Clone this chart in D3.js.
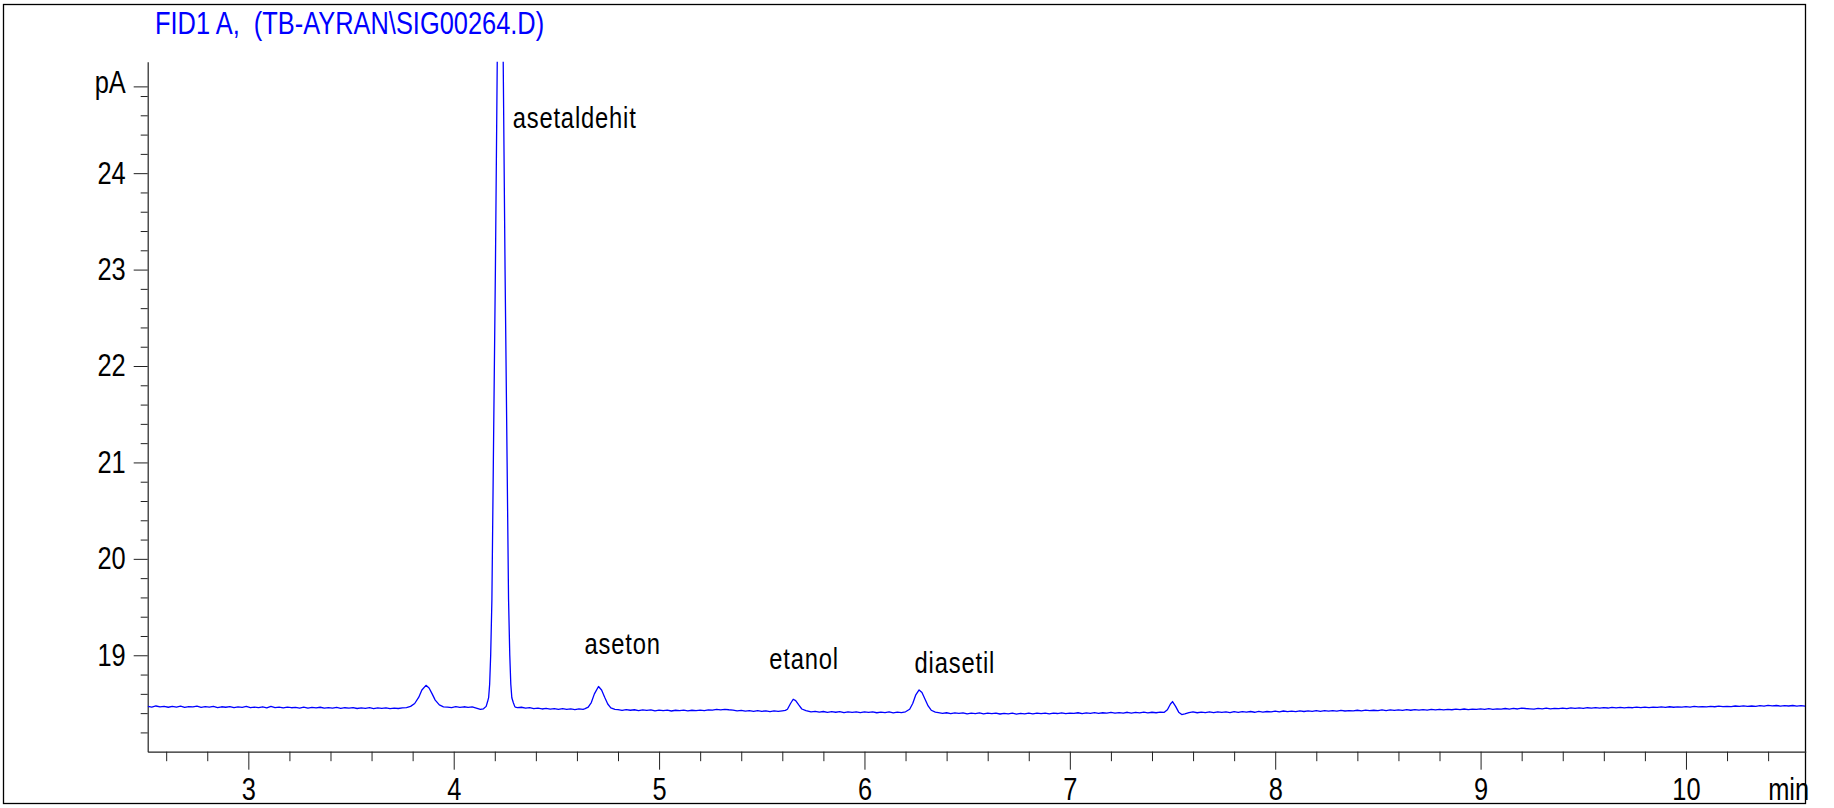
<!DOCTYPE html>
<html>
<head>
<meta charset="utf-8">
<script src="https://cdn.jsdelivr.net/npm/d3@7"></script>
<style>
body { margin: 0; background: #fff; }
svg { display: block; }
text { font-family: "Liberation Sans", Arial, sans-serif; }
</style>
</head>
<body>
<div id="c"></div>
<script>
// chromatogram header + units
var title = "FID1 A,  (TB-AYRAN\\SIG00264.D)";
var yUnit = "pA";
var xUnit = "min";

// axis ticks
var yMajor = [19, 20, 21, 22, 23, 24];
var yMinor = [18.2, 18.4, 18.6, 18.8, 19.2, 19.4, 19.6, 19.8, 20.2, 20.4, 20.6, 20.8,
	21.2, 21.4, 21.6, 21.8, 22.2, 22.4, 22.6, 22.8, 23.2, 23.4, 23.6, 23.8, 24.2, 24.4, 24.6, 24.8];
var yUnitTick = [24.9];
var xMajor = [3, 4, 5, 6, 7, 8, 9, 10];
var xMinor = [2.6, 2.8, 3.2, 3.4, 3.6, 3.8, 4.2, 4.4, 4.6, 4.8, 5.2, 5.4, 5.6, 5.8,
	6.2, 6.4, 6.6, 6.8, 7.2, 7.4, 7.6, 7.8, 8.2, 8.4, 8.6, 8.8, 9.2, 9.4, 9.6, 9.8, 10.2, 10.4];
var xUnitAt = 10.5;

// named peaks: label text, label anchor (min, pA)
var peakNames = ["asetaldehit", "aseton", "etanol", "diasetil"];
var peakTimes = [4.2265, 4.705, 5.653, 6.266];
var labelTimes = [4.287, 4.637, 5.536, 6.244];
var labelLevels = [24.47, 19.01, 18.86, 18.82];

// signal: [time (min), signal (pA)]
var trace = [
	[2.51,18.470],[2.53,18.462],[2.55,18.474],[2.57,18.465],[2.59,18.471],[2.61,18.461],[2.63,18.469],
	[2.65,18.463],[2.67,18.473],[2.69,18.460],[2.71,18.468],[2.73,18.464],[2.75,18.472],[2.77,18.459],
	[2.79,18.467],[2.81,18.462],[2.83,18.470],[2.85,18.458],[2.87,18.466],[2.89,18.461],[2.91,18.468],
	[2.93,18.457],[2.95,18.465],[2.97,18.460],[2.99,18.469],[3.01,18.456],[3.03,18.463],[3.05,18.458],
	[3.07,18.466],[3.09,18.455],[3.11,18.470],[3.13,18.457],[3.15,18.463],[3.17,18.454],[3.19,18.462],
	[3.21,18.456],[3.23,18.460],[3.25,18.453],[3.27,18.462],[3.29,18.452],[3.31,18.459],[3.33,18.454],
	[3.35,18.461],[3.37,18.451],[3.39,18.457],[3.41,18.452],[3.43,18.459],[3.45,18.449],[3.47,18.456],
	[3.49,18.451],[3.51,18.458],[3.53,18.448],[3.55,18.455],[3.57,18.450],[3.59,18.456],[3.61,18.447],
	[3.63,18.454],[3.65,18.449],[3.67,18.455],[3.69,18.446],[3.71,18.453],[3.73,18.448],[3.75,18.454],
	[3.77,18.458],[3.79,18.470],[3.81,18.500],[3.83,18.565],[3.845,18.640],[3.865,18.688],[3.88,18.660],
	[3.895,18.600],[3.91,18.535],[3.93,18.485],[3.95,18.465],
	[3.97,18.463],[3.99,18.458],[4.01,18.467],[4.03,18.459],[4.05,18.466],[4.07,18.460],[4.09,18.464],
	[4.11,18.452],[4.13,18.440],[4.145,18.445],
	[4.158,18.47],[4.165,18.52],[4.170,18.56],[4.175,18.70],[4.180,19.00],[4.186,19.58],[4.193,21.0],
	[4.203,23.0],[4.212,25.16],[4.2265,28.0],[4.241,25.16],[4.250,23.0],[4.260,21.0],[4.267,19.58],
	[4.273,19.00],[4.278,18.70],[4.283,18.56],[4.290,18.51],[4.297,18.47],
	[4.30,18.462],[4.31,18.458],[4.33,18.461],[4.35,18.452],[4.37,18.457],[4.39,18.446],[4.41,18.452],
	[4.43,18.443],[4.45,18.450],[4.47,18.442],[4.49,18.447],[4.51,18.439],[4.53,18.446],[4.55,18.438],
	[4.57,18.445],[4.59,18.437],[4.61,18.444],[4.63,18.440],
	[4.64,18.446],[4.655,18.462],[4.67,18.510],[4.685,18.600],[4.705,18.676],[4.72,18.640],[4.735,18.565],
	[4.75,18.495],[4.765,18.455],[4.785,18.440],
	[4.80,18.436],[4.82,18.428],[4.84,18.437],[4.86,18.430],[4.88,18.435],[4.90,18.426],[4.92,18.434],
	[4.94,18.428],[4.96,18.433],[4.98,18.424],[5.00,18.432],[5.02,18.426],[5.04,18.431],[5.06,18.422],
	[5.08,18.430],[5.10,18.425],[5.12,18.431],[5.14,18.423],[5.16,18.430],[5.18,18.426],[5.20,18.432],
	[5.22,18.427],[5.24,18.434],[5.26,18.431],[5.28,18.438],[5.30,18.433],[5.32,18.439],[5.34,18.435],
	[5.36,18.432],[5.38,18.424],[5.40,18.429],[5.42,18.420],[5.44,18.426],[5.46,18.418],[5.48,18.425],
	[5.50,18.419],[5.52,18.424],[5.54,18.416],[5.56,18.423],[5.58,18.418],[5.60,18.424],[5.615,18.428],
	[5.625,18.440],[5.64,18.500],[5.653,18.544],[5.665,18.530],[5.68,18.485],[5.695,18.443],[5.715,18.425],
	[5.74,18.414],[5.76,18.419],[5.78,18.410],[5.80,18.417],[5.82,18.408],[5.84,18.415],[5.86,18.409],
	[5.88,18.416],[5.90,18.406],[5.92,18.413],[5.94,18.408],[5.96,18.414],[5.98,18.405],[6.00,18.412],
	[6.02,18.407],[6.04,18.413],[6.06,18.404],[6.08,18.411],[6.10,18.406],[6.12,18.412],[6.14,18.403],
	[6.16,18.410],[6.18,18.406],[6.20,18.414],
	[6.22,18.440],[6.235,18.500],[6.25,18.590],[6.266,18.640],[6.28,18.615],[6.295,18.545],[6.31,18.475],
	[6.325,18.430],[6.345,18.410],
	[6.36,18.405],[6.38,18.398],[6.40,18.404],[6.42,18.395],[6.44,18.402],[6.46,18.397],[6.48,18.403],
	[6.50,18.393],[6.52,18.400],[6.54,18.395],[6.56,18.402],[6.58,18.392],[6.60,18.399],[6.62,18.394],
	[6.64,18.401],[6.66,18.391],[6.68,18.398],[6.70,18.393],[6.72,18.400],[6.74,18.390],[6.76,18.397],
	[6.78,18.393],[6.80,18.400],[6.82,18.392],[6.84,18.399],[6.86,18.394],[6.88,18.401],[6.90,18.393],
	[6.92,18.400],[6.94,18.396],[6.96,18.403],[6.98,18.394],[7.00,18.401],[7.02,18.397],[7.04,18.404],
	[7.06,18.395],[7.08,18.403],[7.10,18.398],[7.12,18.405],[7.14,18.397],[7.16,18.404],[7.18,18.400],
	[7.20,18.407],[7.22,18.399],[7.24,18.406],[7.26,18.401],[7.28,18.409],[7.30,18.400],[7.32,18.407],
	[7.34,18.403],[7.36,18.410],[7.38,18.402],[7.40,18.409],[7.42,18.404],[7.44,18.411],[7.46,18.408],
	[7.475,18.435],[7.49,18.495],[7.50,18.520],[7.515,18.470],[7.53,18.410],[7.545,18.385],[7.56,18.392],
	[7.58,18.405],
	[7.60,18.412],[7.62,18.404],[7.64,18.411],[7.66,18.405],[7.68,18.413],[7.70,18.406],[7.72,18.414],
	[7.74,18.407],[7.76,18.412],[7.78,18.405],[7.80,18.415],[7.82,18.408],[7.84,18.416],[7.86,18.410],
	[7.88,18.417],[7.90,18.409],[7.92,18.418],[7.94,18.411],[7.96,18.417],[7.98,18.412],[8.00,18.421],
	[8.02,18.414],[8.04,18.422],[8.06,18.415],[8.08,18.421],[8.10,18.416],[8.12,18.424],[8.14,18.417],
	[8.16,18.423],[8.18,18.418],[8.20,18.426],[8.22,18.419],[8.24,18.425],[8.26,18.420],[8.28,18.427],
	[8.30,18.421],[8.32,18.428],[8.34,18.422],[8.36,18.427],[8.38,18.423],[8.40,18.430],[8.42,18.424],
	[8.44,18.431],[8.46,18.425],[8.48,18.430],[8.50,18.426],[8.52,18.433],[8.54,18.427],[8.56,18.434],
	[8.58,18.428],[8.60,18.433],[8.62,18.429],[8.64,18.436],[8.66,18.430],[8.68,18.437],[8.70,18.431],
	[8.72,18.436],[8.74,18.432],[8.76,18.439],[8.78,18.433],[8.80,18.440],[8.82,18.434],[8.84,18.439],
	[8.86,18.435],[8.88,18.442],[8.90,18.436],[8.92,18.443],[8.94,18.437],[8.96,18.442],[8.98,18.438],
	[9.00,18.445],[9.02,18.439],[9.04,18.446],[9.06,18.440],[9.08,18.445],[9.10,18.441],[9.12,18.448],
	[9.14,18.442],[9.16,18.449],[9.18,18.443],[9.20,18.452],[9.22,18.448],[9.24,18.445],[9.26,18.441],
	[9.28,18.450],[9.30,18.444],[9.32,18.451],[9.34,18.445],[9.36,18.450],[9.38,18.446],[9.40,18.453],
	[9.42,18.447],[9.44,18.455],[9.46,18.449],[9.48,18.454],[9.50,18.450],[9.52,18.456],[9.54,18.451],
	[9.56,18.457],[9.58,18.452],[9.60,18.457],[9.62,18.453],[9.64,18.459],[9.66,18.454],[9.68,18.460],
	[9.70,18.455],[9.72,18.460],[9.74,18.456],[9.76,18.462],[9.78,18.457],[9.80,18.463],[9.82,18.458],
	[9.84,18.462],[9.86,18.459],[9.88,18.465],[9.90,18.460],[9.92,18.466],[9.94,18.461],[9.96,18.465],
	[9.98,18.462],[10.00,18.468],[10.02,18.463],[10.04,18.469],[10.06,18.464],[10.08,18.468],[10.10,18.465],
	[10.12,18.471],[10.14,18.466],[10.16,18.472],[10.18,18.467],[10.20,18.471],[10.22,18.468],[10.24,18.474],
	[10.26,18.469],[10.28,18.475],[10.30,18.470],[10.32,18.474],[10.34,18.471],[10.36,18.477],[10.38,18.472],
	[10.40,18.480],[10.42,18.476],[10.44,18.479],[10.46,18.473],[10.48,18.478],[10.50,18.474],[10.52,18.479],
	[10.54,18.473],[10.56,18.477],[10.58,18.472]
];

var width = 1834;
var height = 808;
var p_left = 147.7, p_right = 1805.7, p_top = 61.7, p_bottom = 751.7;
var axisFont = 31;
var squeeze = 0.82;   // narrow face: regular face squeezed horizontally

var svg = d3.select("#c").append("svg")
	.attr("width", width)
	.attr("height", height);

svg.append("rect")
	.attr("width", width)
	.attr("height", height)
	.attr("fill", "#fff");

// outer frame
svg.append("rect")
	.attr("x", 3.5).attr("y", 4.5)
	.attr("width", 1802).attr("height", 799)
	.attr("fill", "none")
	.attr("stroke", "#000")
	.attr("stroke-width", 1.3);

var x = d3.scaleLinear().domain([2.51, 10.583]).range([p_left, p_right]);
var y = d3.scaleLinear().domain([18.0, 25.156]).range([p_bottom, p_top]);

// squeeze text about its own anchor
function narrow(sel) {
	sel.each(function() {
		var t = d3.select(this);
		var tx = +t.attr("x") || 0;
		t.attr("x", tx / squeeze).attr("transform", "scale(" + squeeze + ",1)");
	});
}

function plain(g) {
	g.attr("font-family", null).attr("font-size", null);
	g.selectAll("line").attr("stroke", "#222");
	g.selectAll("text").attr("font-size", axisFont).attr("fill", "#000").call(narrow);
}

// x axis
var gx = svg.append("g").attr("transform", "translate(0," + p_bottom + ")");
gx.append("g")
	.call(d3.axisBottom(x).tickValues(xMinor).tickSize(9.5).tickSizeOuter(0).tickFormat(""))
	.call(function(g) { g.select(".domain").remove(); })
	.call(plain);
gx.append("g")
	.call(d3.axisBottom(x).tickValues(xMajor).tickSize(18).tickSizeOuter(0).tickPadding(8).tickFormat(d3.format("d")))
	.call(plain)
	.call(function(g) { g.select(".domain").attr("stroke", "#222").attr("stroke-width", 1.2); });

gx.append("g")
	.attr("transform", "translate(" + x(xUnitAt) + ",48)")
	.append("text")
	.attr("text-anchor", "middle")
	.attr("font-size", axisFont)
	.text(xUnit)
	.call(narrow);

// y axis
var gy = svg.append("g").attr("transform", "translate(" + p_left + ",0)");
gy.append("g")
	.call(d3.axisLeft(y).tickValues(yMinor).tickSize(7).tickSizeOuter(0).tickFormat(""))
	.call(function(g) { g.select(".domain").remove(); })
	.call(plain);
gy.append("g")
	.call(d3.axisLeft(y).tickValues(yMajor).tickSize(14).tickSizeOuter(0).tickPadding(8).tickFormat(d3.format("d")))
	.call(plain)
	.call(function(g) { g.select(".domain").attr("stroke", "#222").attr("stroke-width", 1.2); });
gy.append("g")
	.call(d3.axisLeft(y).tickValues(yUnitTick).tickSize(14).tickPadding(8).tickFormat(function() { return yUnit; }))
	.call(function(g) { g.select(".domain").remove(); })
	.call(plain)
	.call(function(g) { g.selectAll("text").attr("dy", "0.2em"); });

// title
svg.append("g")
	.attr("transform", "translate(155,34)")
	.append("text")
	.attr("font-size", 31)
	.attr("fill", "#0000ff")
	.style("white-space", "pre")
	.text(title)
	.call(narrow);

// trace, clipped to the plot box
svg.append("clipPath").attr("id", "plotclip")
	.append("rect")
	.attr("x", p_left).attr("y", p_top)
	.attr("width", p_right - p_left).attr("height", p_bottom - p_top);

var line = d3.line()
	.x(function(d) { return x(d[0]); })
	.y(function(d) { return y(d[1]); });

svg.append("path")
	.datum(trace)
	.attr("clip-path", "url(#plotclip)")
	.attr("fill", "none")
	.attr("stroke", "#0000ff")
	.attr("stroke-width", 1.3)
	.attr("stroke-linejoin", "round")
	.attr("d", line);

// peak labels
svg.selectAll(".peak-label")
	.data(peakNames)
	.enter()
	.append("g")
	.attr("class", "peak-label")
	.attr("transform", function(d, i) { return "translate(" + x(labelTimes[i]) + "," + y(labelLevels[i]) + ")"; })
	.append("text")
	.attr("font-size", 29)
	.attr("letter-spacing", 1)
	.attr("fill", "#000")
	.text(function(d) { return d; })
	.call(narrow);
</script>
</body>
</html>
